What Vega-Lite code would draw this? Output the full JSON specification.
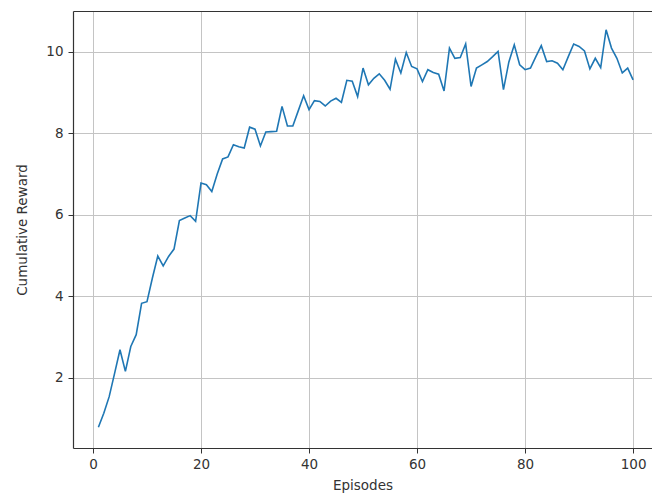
{
  "$schema": "https://vega.github.io/schema/vega-lite/v6.json",
  "width": 579,
  "height": 437,
  "autosize": {"type": "none"},
  "padding": {"left": 73, "top": 11, "right": 0, "bottom": 51},
  "background": "white",
  "config": {
    "view": {"stroke": null},
    "font": "DejaVu Sans",
    "axis": {
      "labelFont": "DejaVu Sans",
      "titleFont": "DejaVu Sans",
      "labelFontSize": 13.5,
      "titleFontSize": 13.5,
      "titleFontWeight": "normal",
      "labelColor": "#333333",
      "titleColor": "#333333",
      "domainColor": "#333333",
      "domainWidth": 1.2,
      "tickColor": "#333333",
      "tickWidth": 1,
      "tickSize": 5,
      "gridColor": "#c4c4c4",
      "gridWidth": 1,
      "gridOpacity": 1
    }
  },
  "data": {
    "values": [
      {"episode": 1, "reward": 0.79}, {"episode": 2, "reward": 1.13}, {"episode": 3, "reward": 1.54}, {"episode": 4, "reward": 2.11}, {"episode": 5, "reward": 2.69},
      {"episode": 6, "reward": 2.16}, {"episode": 7, "reward": 2.77}, {"episode": 8, "reward": 3.06}, {"episode": 9, "reward": 3.83}, {"episode": 10, "reward": 3.87},
      {"episode": 11, "reward": 4.45}, {"episode": 12, "reward": 4.99}, {"episode": 13, "reward": 4.75}, {"episode": 14, "reward": 4.98}, {"episode": 15, "reward": 5.16},
      {"episode": 16, "reward": 5.86}, {"episode": 17, "reward": 5.92}, {"episode": 18, "reward": 5.98}, {"episode": 19, "reward": 5.84}, {"episode": 20, "reward": 6.78},
      {"episode": 21, "reward": 6.74}, {"episode": 22, "reward": 6.57}, {"episode": 23, "reward": 7.0}, {"episode": 24, "reward": 7.37}, {"episode": 25, "reward": 7.42},
      {"episode": 26, "reward": 7.72}, {"episode": 27, "reward": 7.67}, {"episode": 28, "reward": 7.64}, {"episode": 29, "reward": 8.15}, {"episode": 30, "reward": 8.1},
      {"episode": 31, "reward": 7.69}, {"episode": 32, "reward": 8.03}, {"episode": 33, "reward": 8.04}, {"episode": 34, "reward": 8.05}, {"episode": 35, "reward": 8.66},
      {"episode": 36, "reward": 8.18}, {"episode": 37, "reward": 8.18}, {"episode": 38, "reward": 8.55}, {"episode": 39, "reward": 8.92}, {"episode": 40, "reward": 8.58},
      {"episode": 41, "reward": 8.8}, {"episode": 42, "reward": 8.78}, {"episode": 43, "reward": 8.67}, {"episode": 44, "reward": 8.79}, {"episode": 45, "reward": 8.86},
      {"episode": 46, "reward": 8.76}, {"episode": 47, "reward": 9.3}, {"episode": 48, "reward": 9.28}, {"episode": 49, "reward": 8.9}, {"episode": 50, "reward": 9.6},
      {"episode": 51, "reward": 9.19}, {"episode": 52, "reward": 9.35}, {"episode": 53, "reward": 9.46}, {"episode": 54, "reward": 9.3}, {"episode": 55, "reward": 9.08},
      {"episode": 56, "reward": 9.82}, {"episode": 57, "reward": 9.48}, {"episode": 58, "reward": 9.98}, {"episode": 59, "reward": 9.64}, {"episode": 60, "reward": 9.58},
      {"episode": 61, "reward": 9.27}, {"episode": 62, "reward": 9.56}, {"episode": 63, "reward": 9.49}, {"episode": 64, "reward": 9.45}, {"episode": 65, "reward": 9.04},
      {"episode": 66, "reward": 10.09}, {"episode": 67, "reward": 9.84}, {"episode": 68, "reward": 9.86}, {"episode": 69, "reward": 10.19}, {"episode": 70, "reward": 9.15},
      {"episode": 71, "reward": 9.6}, {"episode": 72, "reward": 9.68}, {"episode": 73, "reward": 9.76}, {"episode": 74, "reward": 9.88}, {"episode": 75, "reward": 10.01},
      {"episode": 76, "reward": 9.07}, {"episode": 77, "reward": 9.75}, {"episode": 78, "reward": 10.17}, {"episode": 79, "reward": 9.68}, {"episode": 80, "reward": 9.56},
      {"episode": 81, "reward": 9.6}, {"episode": 82, "reward": 9.88}, {"episode": 83, "reward": 10.15}, {"episode": 84, "reward": 9.76}, {"episode": 85, "reward": 9.78},
      {"episode": 86, "reward": 9.72}, {"episode": 87, "reward": 9.56}, {"episode": 88, "reward": 9.88}, {"episode": 89, "reward": 10.19}, {"episode": 90, "reward": 10.13},
      {"episode": 91, "reward": 10.02}, {"episode": 92, "reward": 9.58}, {"episode": 93, "reward": 9.84}, {"episode": 94, "reward": 9.61}, {"episode": 95, "reward": 10.54},
      {"episode": 96, "reward": 10.09}, {"episode": 97, "reward": 9.84}, {"episode": 98, "reward": 9.48}, {"episode": 99, "reward": 9.6}, {"episode": 100, "reward": 9.31}
    ]
  },
  "encoding": {
    "y": {
      "field": "reward",
      "type": "quantitative",
      "scale": {"domain": [0.28, 11.0], "nice": false, "zero": false},
      "axis": {
        "title": "Cumulative Reward",
        "values": [2, 4, 6, 8, 10],
        "labelPadding": 5,
        "titlePadding": 16,
        "grid": true
      }
    }
  },
  "layer": [
    {
      "mark": {"type": "line", "color": "#1f77b4", "strokeWidth": 1.6, "interpolate": "linear", "clip": true},
      "encoding": {
        "x": {
          "field": "episode",
          "type": "quantitative",
          "scale": {"domain": [-3.7, 103.5], "nice": false, "zero": false},
          "axis": {
            "title": "Episodes",
            "orient": "bottom",
            "values": [0, 20, 40, 60, 80, 100],
            "labelPadding": 4,
            "titlePadding": 8,
            "grid": true
          }
        }
      }
    },
    {
      "mark": {"type": "line", "strokeOpacity": 0, "clip": true},
      "encoding": {
        "x": {
          "field": "episode",
          "type": "quantitative",
          "axis": {
            "orient": "top",
            "title": null,
            "labels": false,
            "ticks": false,
            "grid": false,
            "domain": true
          }
        }
      }
    }
  ],
  "resolve": {"axis": {"x": "independent"}}
}
